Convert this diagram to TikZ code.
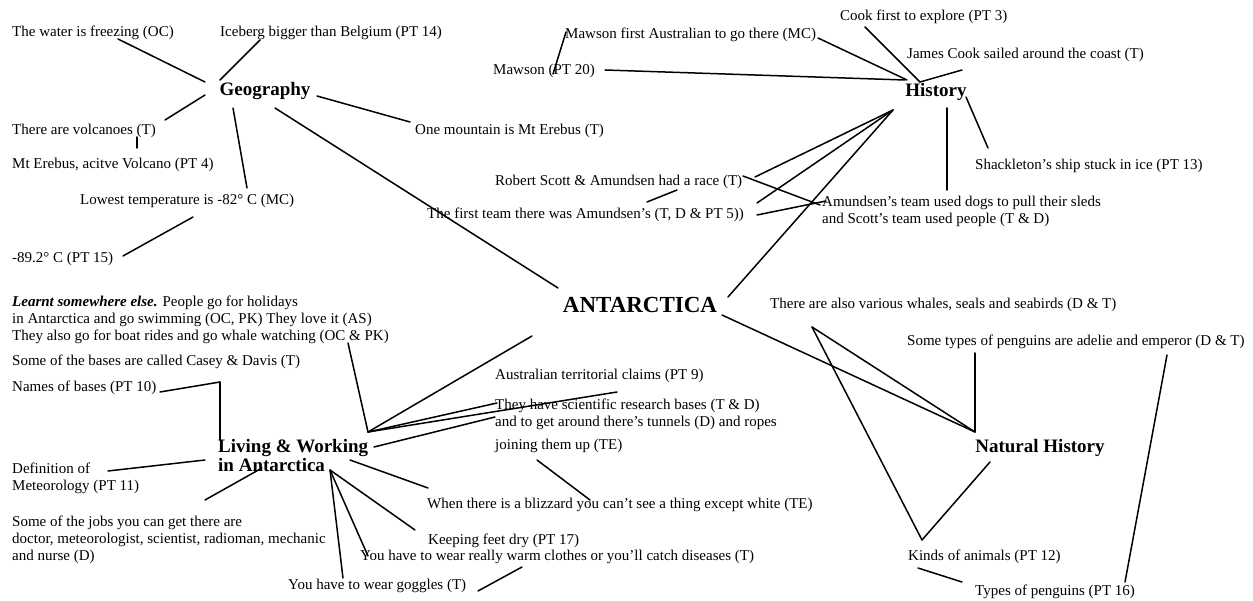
\documentclass[tikz,border=0pt]{standalone}
\usepackage{fontspec}
\setmainfont{Liberation Serif}
\begin{document}
\begin{tikzpicture}[x=1pt,y=-1pt,
  every node/.style={inner sep=0pt},
  txt/.style={anchor=west,align=left,font=\fontsize{15}{17}\selectfont},
  topic/.style={font=\fontsize{19}{19}\selectfont\bfseries,align=left},
  hub/.style={font=\fontsize{23}{23}\selectfont\bfseries},
  link/.style={line width=1.5pt,line cap=round}]
\useasboundingbox[fill=white] (0,0) rectangle (1253,601);

% centre and topics
\node[hub] (ant) at (640,305) {ANTARCTICA};
\node[topic] (geo) at (265,91) {Geography};
\node[topic] (hist) at (936,92) {History};
\node[topic] (nat) at (1040,448) {Natural History};
\node[topic,anchor=west] (lw) at (218,456) {Living \& Working\\in Antarctica};

% geography
\node[txt] (water) at (12,33) {The water is freezing (OC)};
\node[txt] (iceberg) at (220,33) {Iceberg bigger than Belgium (PT 14)};
\node[txt] (volc) at (12,131) {There are volcanoes (T)};
\node[txt] (erebus) at (12,165) {Mt Erebus, acitve Volcano (PT 4)};
\node[txt] (mountain) at (415,131) {One mountain is Mt Erebus (T)};
\node[txt] (lowest) at (80,201) {Lowest temperature is -82° C (MC)};
\node[txt] (minus) at (12,259) {-89.2° C (PT 15)};

% history
\node[txt] (mawson) at (493,71) {Mawson (PT 20)};
\node[txt] (mawfirst) at (565,35) {Mawson first Australian to go there (MC)};
\node[txt] (cook) at (840,17) {Cook first to explore (PT 3)};
\node[txt] (james) at (907,55) {James Cook sailed around the coast (T)};
\node[txt] (shack) at (975,166) {Shackleton's ship stuck in ice (PT 13)};
\node[txt] (amund) at (822,211) {Amundsen's team used dogs to pull their sleds\\and Scott's team used people (T \& D)};
\node[txt] (race) at (495,182) {Robert Scott \& Amundsen had a race (T)};
\node[txt] (first) at (427,215) {The first team there was Amundsen's (T, D \& PT 5))};

% natural history
\node[txt] (whales) at (770,305) {There are also various whales, seals and seabirds (D \& T)};
\node[txt] (penguins) at (907,342) {Some types of penguins are adelie and emperor (D \& T)};
\node[txt] (kinds) at (908,557) {Kinds of animals (PT 12)};
\node[txt] (types) at (975,592) {Types of penguins (PT 16)};

% living and working
\node[txt] (learnt) at (12,320) {\textbf{\textit{Learnt somewhere else.}} People go for holidays\\in Antarctica and go swimming (OC, PK) They love it (AS)\\They also go for boat rides and go whale watching (OC \& PK)};
\node[txt] (casey) at (12,362) {Some of the bases are called Casey \& Davis (T)};
\node[txt] (names) at (12,388) {Names of bases (PT 10)};
\node[txt] (def) at (12,478) {Definition of\\Meteorology (PT 11)};
\node[txt] (jobs) at (12,540) {Some of the jobs you can get there are\\doctor, meteorologist, scientist, radioman, mechanic\\and nurse (D)};
\node[txt] (goggles) at (288,586) {You have to wear goggles (T)};
\node[txt] (warm) at (360,557) {You have to wear really warm clothes or you'll catch diseases (T)};
\node[txt] (feet) at (428,541) {Keeping feet dry (PT 17)};
\node[txt] (blizzard) at (427,505) {When there is a blizzard you can't see a thing except white (TE)};
\node[txt] (claims) at (495,376) {Australian territorial claims (PT 9)};
\node[txt] (research) at (495,426) {They have scientific research bases (T \& D)\\and to get around there's tunnels (D) and ropes\\[6pt]joining them up (TE)};

% connection points
\coordinate (hubH) at (893,110);
\coordinate (hubL) at (368,432);
\coordinate (hubA) at (330,470);
\coordinate (hubC) at (220,382);
\coordinate (hubW) at (812,327);
\coordinate (natTop) at (975,432);
\coordinate (kindsTop) at (922,540);

% geography links
\draw[link] (118,39) -- (205,82);
\draw[link] (260,40) -- (220,80);
\draw[link] (205,95) -- (165,120);
\draw[link] (137,137) -- (137,148);
\draw[link] (233,108) -- (247,188);
\draw[link] (317,96) -- (410,122);
\draw[link] (275,108) -- (558,288);
\draw[link] (193,217) -- (123,256);

% history links
\draw[link] (566,32) -- (553,74);
\draw[link] (605,70) -- (905,80);
\draw[link] (818,38) -- (907,80);
\draw[link] (865,27) -- (920,82);
\draw[link] (962,70) -- (920,82);
\draw[link] (966,97) -- (988,148);
\draw[link] (947,108) -- (947,190);
\draw[link] (hubH) -- (755,177);
\draw[link] (hubH) -- (757,203);
\draw[link] (hubH) -- (728,297);
\draw[link] (743,176) -- (820,205);
\draw[link] (757,215) -- (826,201);
\draw[link] (677,190) -- (647,202);

% natural history links
\draw[link] (722,315) -- (natTop);
\draw[link] (hubW) -- (natTop);
\draw[link] (hubW) -- (kindsTop);
\draw[link] (990,462) -- (kindsTop);
\draw[link] (975,353) -- (natTop);
\draw[link] (1167,355) -- (1125,582);
\draw[link] (918,568) -- (962,582);

% living and working links
\draw[link] (348,343) -- (hubL);
\draw[link] (hubL) -- (532,336);
\draw[link] (hubL) -- (617,392);
\draw[link] (hubL) -- (497,403);
\draw[link] (374,447) -- (495,417);
\draw[link] (350,460) -- (428,488);
\draw[link] (537,460) -- (590,500);
\draw[link] (hubA) -- (415,530);
\draw[link] (hubA) -- (368,556);
\draw[link] (hubA) -- (343,578);
\draw[link] (522,567) -- (478,591);
\draw[link] (hubC) -- (160,392);
\draw[link] (hubC) -- (220,440);
\draw[link] (205,460) -- (108,471);
\draw[link] (262,468) -- (205,500);
\end{tikzpicture}
\end{document}
